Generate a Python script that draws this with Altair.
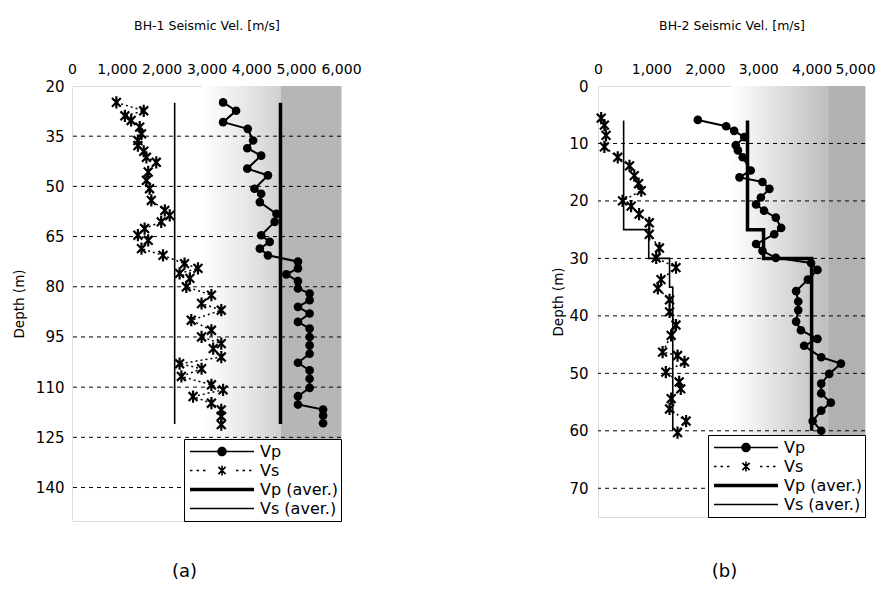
import altair as alt
import pandas as pd

FONT = "DejaVu Sans"

# ---------------- BH-1 ----------------
bh1_vp_depth = [24.9, 27.4, 30.8, 32.8, 36.3, 38.6, 40.8, 44.7, 46.7, 50.7, 52.2, 54.7, 58.2, 60.6,
                64.6, 66.6, 68.6, 70.6, 72.5, 74.5, 76.3, 78.3, 80.5, 82.0, 84.0, 86.0, 88.0, 90.5,
                92.5, 95.0, 97.5, 100.0, 102.7, 105.0, 107.5, 110.2, 112.7, 115.2, 116.7, 118.5, 120.8]
bh1_vp = [3370, 3660, 3370, 3920, 4040, 3910, 4220, 3910, 4370, 4070, 4220, 4190, 4560, 4520,
          4220, 4410, 4190, 4370, 5040, 5040, 4780, 5040, 5040, 5300, 5300, 5040, 5300, 5040,
          5300, 5300, 5300, 5300, 5040, 5300, 5300, 5300, 5040, 5040, 5600, 5600, 5600]
bh1_vs_depth = [24.9, 27.4, 28.9, 30.3, 32.3, 34.3, 36.3, 37.8, 39.5, 41.3, 42.8, 45.7, 48.2, 50.7,
                54.2, 57.2, 58.7, 60.6, 62.6, 64.6, 66.1, 68.6, 70.6, 73.1, 74.5, 76.0, 77.5, 80.0,
                82.5, 85.0, 87.0, 90.0, 93.0, 95.0, 97.0, 98.5, 101.0, 103.0, 104.5, 106.8, 109.3,
                110.8, 112.8, 114.8, 116.8, 118.7, 121.2]
bh1_vs = [990, 1600, 1180, 1320, 1510, 1550, 1470, 1470, 1600, 1660, 1880, 1700, 1660, 1730,
          1770, 2070, 2180, 1990, 1620, 1470, 1700, 1550, 2030, 2510, 2810, 2400, 2630, 2550,
          3110, 2890, 3330, 2660, 3110, 2890, 3330, 3150, 3330, 2400, 2890, 2440, 3110,
          3370, 2700, 3110, 3330, 3330, 3330]
bh1_vp_aver_depth = [25, 121]
bh1_vp_aver = [4650, 4650]
bh1_vs_aver_depth = [25, 121]
bh1_vs_aver = [2290, 2290]
bh1_x_domain = [0, 6000]
bh1_x_ticks = [0, 1000, 2000, 3000, 4000, 5000, 6000]
bh1_y_domain = [20, 150]
bh1_y_ticks = [20, 35, 50, 65, 80, 95, 110, 125, 140]
bh1_grid = [35, 50, 65, 80, 95, 110, 125, 140]
bh1_shade_grad = [2900, 4650]
bh1_shade_flat = [4650, 6000]

# ---------------- BH-2 ----------------
bh2_vp_depth = [5.9, 7.0, 7.8, 8.9, 10.3, 11.2, 12.4, 14.7, 15.9, 16.7, 17.9, 19.4, 20.6, 21.7,
                22.9, 24.7, 25.8, 27.5, 28.7, 29.9, 30.8, 32.0, 33.7, 35.7, 37.5, 39.0, 41.0,
                42.5, 44.0, 45.2, 47.2, 48.3, 50.1, 51.8, 53.5, 55.1, 56.5, 58.3, 60.0]
bh2_vp = [1870, 2400, 2550, 2740, 2580, 2620, 2710, 2860, 2650, 3080, 3210, 3050, 2960, 3110,
          3330, 3430, 3300, 2960, 3080, 3330, 3990, 4110, 3930, 3710, 3750, 3750, 3710,
          3800, 4110, 3860, 4180, 4550, 4330, 4180, 4180, 4360, 4180, 4020, 4180]
bh2_vs_depth = [5.6, 6.8, 8.6, 10.6, 12.4, 13.9, 15.6, 17.0, 18.2, 20.0, 20.9, 22.3, 23.8, 25.8,
                28.2, 29.9, 31.6, 33.7, 35.2, 37.2, 39.3, 41.6, 43.4, 46.3, 46.9, 48.0, 49.8,
                51.5, 52.7, 54.4, 56.2, 58.3, 60.3]
bh2_vs = [60, 120, 150, 120, 370, 590, 680, 760, 810, 460, 620, 770, 960, 960,
          1150, 1090, 1460, 1180, 1120, 1340, 1340, 1460, 1370, 1210, 1490, 1620, 1270,
          1520, 1550, 1370, 1340, 1650, 1490]
bh2_vp_aver_depth = [6, 25, 25, 30, 30, 60]
bh2_vp_aver = [2800, 2800, 3100, 3100, 4000, 4000]
bh2_vs_aver_depth = [6, 25, 25, 30, 30, 35, 35, 60]
bh2_vs_aver = [480, 480, 950, 950, 1340, 1340, 1400, 1400]
bh2_x_domain = [0, 5000]
bh2_x_ticks = [0, 1000, 2000, 3000, 4000, 5000]
bh2_y_domain = [0, 75]
bh2_y_ticks = [0, 10, 20, 30, 40, 50, 60, 70]
bh2_grid = [10, 20, 30, 40, 50, 60, 70]
bh2_shade_grad = [2500, 4300]
bh2_shade_flat = [4300, 5000]

legend_names = ["Vp", "Vs", "Vp (aver.)", "Vs (aver.)"]
# filled outlines (1 unit = 5 px): line, dotted line, asterisk, circle
_line_thin = "M-6.4,-0.16H6.4V0.16H-6.4Z"
_circle = "M-0.95,0A0.95,0.95 0 1,1 0.95,0A0.95,0.95 0 1,1 -0.95,0Z"
_dots = "".join("M%.2f,-0.16H%.2fV0.16H%.2fZ" % (a, a + 0.5, a)
                for a in (-6.4, -5.1, -3.8, 2.8, 4.1, 5.4))
_star = ("M-0.15,-1H0.15V1H-0.15Z"
         "M-0.593,-0.847L0.847,0.593L0.593,0.847L-0.847,-0.593Z"
         "M-0.593,0.847L-0.847,0.593L0.593,-0.847L0.847,-0.593Z")
legend_paths = [
    _line_thin + _circle,
    _dots + _star,
    "M-6.4,-0.36H6.4V0.36H-6.4Z",
    "M-6.4,-0.15H6.4V0.15H-6.4Z",
]
STAR = "M-0.72,-0.72L0.72,0.72M-0.72,0.72L0.72,-0.72M0,-1V1"


def panel(vp_d, vp_v, vs_d, vs_v, vpa_d, vpa_v, vsa_d, vsa_v, x_dom, x_ticks, y_dom, y_ticks,
          grid, shade_grad, shade_flat, grad_stops, flat_color, title, label, w, h,
          y_label_pad, y_title_pad, label_dx, label_offset, last_label_shift):
    xs = alt.Scale(domain=x_dom, nice=False, zero=False)
    ys = alt.Scale(domain=y_dom, reverse=True, nice=False, zero=False)
    x_axis = alt.Axis(orient="top", values=x_ticks, format=",d", title=title, ticks=False,
                      domain=False, grid=False, labelFont=FONT, labelFontSize=14,
                      labelOverlap=False, labelFlush=False, labelPadding=10,
                      labelOffset=alt.condition("datum.value == %d" % x_dom[1],
                                                alt.value(last_label_shift), alt.value(0)),
                      labelColor="black", titleFont=FONT, titleFontSize=12.5,
                      titleFontWeight="normal", titleColor="black", titlePadding=30)
    y_axis = alt.Axis(values=y_ticks, title="Depth (m)", ticks=False, domain=False, grid=False,
                      labelFont=FONT, labelFontSize=15, labelPadding=y_label_pad,
                      labelColor="black", labelOverlap=False, labelFlush=False,
                      titleFont=FONT, titleFontSize=13.5, titleFontWeight="normal",
                      titleColor="black", titlePadding=y_title_pad)
    X = alt.X("v:Q", scale=xs, axis=x_axis)
    Y = alt.Y("depth:Q", scale=ys, axis=y_axis)

    grad_df = pd.DataFrame({"v": [shade_grad[0]], "v2": [shade_grad[1]],
                            "depth": [y_dom[0]], "depth2": [y_dom[1]]})
    flat_df = pd.DataFrame({"v": [shade_flat[0]], "v2": [shade_flat[1]],
                            "depth": [y_dom[0]], "depth2": [y_dom[1]]})
    gradient = alt.Gradient(gradient="linear", x1=0, x2=1, y1=0, y2=0,
                            stops=[alt.GradientStop(offset=o, color=c) for o, c in grad_stops])
    shade1 = alt.Chart(grad_df).mark_rect(fill=gradient).encode(
        x=X, x2="v2:Q", y=Y, y2="depth2:Q")
    shade2 = alt.Chart(flat_df).mark_rect(fill=flat_color).encode(
        x=X, x2="v2:Q", y=Y, y2="depth2:Q")

    grid_lines = alt.Chart(pd.DataFrame({"depth": grid})).mark_rule(
        color="black", strokeDash=[4, 4], strokeWidth=1).encode(y=Y)

    vpa_df = pd.DataFrame({"depth": vpa_d, "v": vpa_v, "i": list(range(len(vpa_d)))})
    vsa_df = pd.DataFrame({"depth": vsa_d, "v": vsa_v, "i": list(range(len(vsa_d)))})
    vp_aver = alt.Chart(vpa_df).mark_line(color="black", strokeWidth=3.5).encode(
        x=X, y=Y, order="i:Q")
    vs_aver = alt.Chart(vsa_df).mark_line(color="black", strokeWidth=1.6).encode(
        x=X, y=Y, order="i:Q")

    vs_df = pd.DataFrame({"depth": vs_d, "v": vs_v})
    vp_df = pd.DataFrame({"depth": vp_d, "v": vp_v})
    vs_line = alt.Chart(vs_df).mark_line(color="black", strokeWidth=1.5,
                                         strokeDash=[2, 3]).encode(x=X, y=Y, order="depth:Q")
    vs_pts = alt.Chart(vs_df).mark_point(shape=STAR, size=150, color="black", strokeWidth=2.2,
                                         opacity=1, filled=False).encode(x=X, y=Y)
    vp_line = alt.Chart(vp_df).mark_line(color="black", strokeWidth=2).encode(
        x=X, y=Y, order="depth:Q")
    vp_pts = alt.Chart(vp_df).mark_point(shape="circle", size=75, filled=True, color="black",
                                         opacity=1).encode(x=X, y=Y)

    leg_df = pd.DataFrame({"series": pd.Series([], dtype=str)})
    legend_layer = alt.Chart(leg_df).mark_point(filled=True, color="black",
                                                opacity=1).encode(
        shape=alt.Shape("series:N", title=None,
                        scale=alt.Scale(domain=legend_names, range=legend_paths),
                        legend=alt.Legend(orient="bottom-right", offset=0, padding=3,
                                          strokeColor="black", fillColor="white",
                                          clipHeight=19, rowPadding=0, symbolSize=100,
                                          symbolOffset=27, labelOffset=30, labelFont=FONT,
                                          labelFontSize=16, labelColor="black",
                                          labelLimit=300, symbolStrokeWidth=0,
                                          symbolFillColor="black", symbolOpacity=1)))

    return alt.layer(shade1, shade2, grid_lines, vs_aver, vp_aver, vs_line, vs_pts, vp_line,
                     vp_pts, legend_layer).properties(
        width=w, height=h,
        title=alt.TitleParams(label, orient="bottom", font=FONT, fontSize=18,
                              fontWeight="normal", color="black", offset=label_offset,
                              dx=label_dx))


left = panel(bh1_vp_depth, bh1_vp, bh1_vs_depth, bh1_vs, bh1_vp_aver_depth, bh1_vp_aver,
             bh1_vs_aver_depth, bh1_vs_aver, bh1_x_domain, bh1_x_ticks, bh1_y_domain,
             bh1_y_ticks, bh1_grid, bh1_shade_grad, bh1_shade_flat,
             [(0, "#ffffff"), (0.55, "#e8e8e8"), (1, "#d0d0d0")], "#b6b6b6",
             "BH-1 Seismic Vel. [m/s]", "(a)", 269, 435, 8, 9, -22, 41, 0)
right = panel(bh2_vp_depth, bh2_vp, bh2_vs_depth, bh2_vs, bh2_vp_aver_depth, bh2_vp_aver,
              bh2_vs_aver_depth, bh2_vs_aver, bh2_x_domain, bh2_x_ticks, bh2_y_domain,
              bh2_y_ticks, bh2_grid, bh2_shade_grad, bh2_shade_flat,
              [(0, "#ffffff"), (0.45, "#e2e2e2"), (1, "#bdbdbd")], "#b2b2b2",
              "BH-2 Seismic Vel. [m/s]", "(b)", 267, 431, 10, 3, -7, 45, -10)

chart = alt.hconcat(left, right, spacing=189).resolve_scale(
    x="independent", y="independent", shape="independent").resolve_legend(
    shape="independent").properties(
    padding={"left": 3, "top": 10, "right": 0, "bottom": 0}).configure_view(
    stroke="black", strokeWidth=1).configure(background="white")

chart.save("out.html", embed_options={"renderer": "svg", "actions": False})
